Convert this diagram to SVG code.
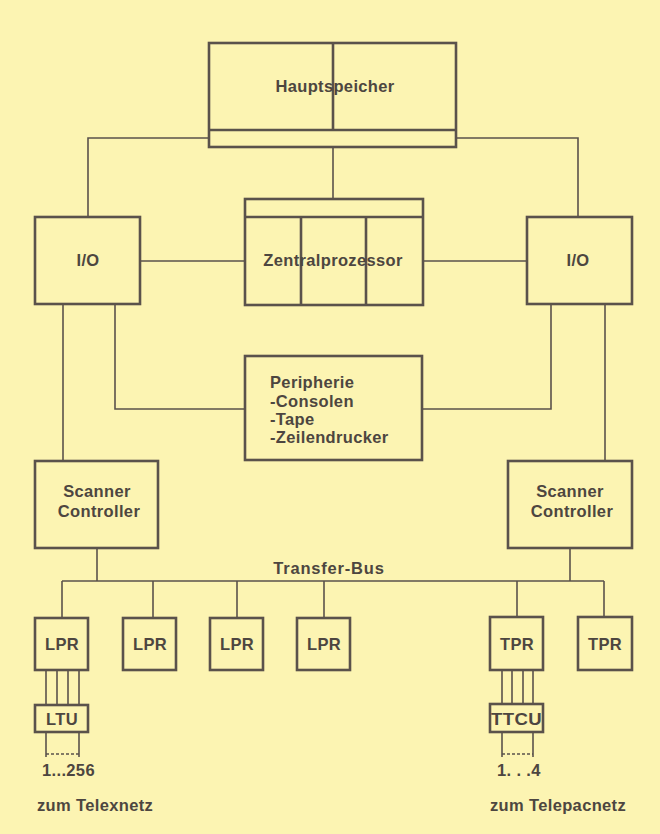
<svg xmlns="http://www.w3.org/2000/svg" width="660" height="834" viewBox="0 0 660 834">
<style>
.bx{fill:none;stroke:#5a524b;stroke-width:2.6}
.ln{fill:none;stroke:#5a524b;stroke-width:1.6}
.t{font-family:"Liberation Sans",Arial,sans-serif;font-weight:bold;font-size:16.5px;letter-spacing:0.35px;fill:#4d4640}
.c{text-anchor:middle}
</style>
<rect width="660" height="834" fill="#fcf4b2"/>
<g id="connectors">
<polyline class="ln" points="209,138 88,138 88,217"/>
<polyline class="ln" points="456,138 578,138 578,217"/>
<line class="ln" x1="333" y1="147" x2="333" y2="199"/>
<line class="ln" x1="140" y1="261" x2="245" y2="261"/>
<line class="ln" x1="423" y1="261" x2="527" y2="261"/>
<line class="ln" x1="63" y1="304" x2="63" y2="461"/>
<polyline class="ln" points="115,304 115,409 245,409"/>
<polyline class="ln" points="551,304 551,409 422,409"/>
<line class="ln" x1="605" y1="304" x2="605" y2="461"/>
<line class="ln" x1="97" y1="548" x2="97" y2="581"/>
<line class="ln" x1="570" y1="548" x2="570" y2="581"/>
<line class="ln" x1="62" y1="581" x2="604" y2="581"/>
<line class="ln" x1="62" y1="581" x2="62" y2="618"/>
<line class="ln" x1="153" y1="581" x2="153" y2="618"/>
<line class="ln" x1="237" y1="581" x2="237" y2="618"/>
<line class="ln" x1="324" y1="581" x2="324" y2="618"/>
<line class="ln" x1="517" y1="581" x2="517" y2="617"/>
<line class="ln" x1="604" y1="581" x2="604" y2="617"/>
<line class="ln" x1="46" y1="670" x2="46" y2="705"/>
<line class="ln" x1="57" y1="670" x2="57" y2="705"/>
<line class="ln" x1="68" y1="670" x2="68" y2="705"/>
<line class="ln" x1="79" y1="670" x2="79" y2="705"/>
<line class="ln" x1="46" y1="732" x2="46" y2="757"/>
<line class="ln" x1="79" y1="732" x2="79" y2="757"/>
<line class="ln" x1="46" y1="754" x2="79" y2="754" stroke-dasharray="3,2"/>
<line class="ln" x1="502" y1="670" x2="502" y2="704"/>
<line class="ln" x1="512" y1="670" x2="512" y2="704"/>
<line class="ln" x1="523" y1="670" x2="523" y2="704"/>
<line class="ln" x1="533" y1="670" x2="533" y2="704"/>
<line class="ln" x1="502" y1="732" x2="502" y2="757"/>
<line class="ln" x1="533" y1="732" x2="533" y2="757"/>
<line class="ln" x1="502" y1="754" x2="533" y2="754" stroke-dasharray="3,2"/>
<text class="t c" x="329" y="574" style="letter-spacing:0.8px">Transfer-Bus</text>
</g>
<g id="hauptspeicher">
<rect class="bx" x="209" y="43" width="247" height="104"/>
<line class="bx" x1="209" y1="130" x2="456" y2="130"/>
<line class="bx" x1="333" y1="43" x2="333" y2="130"/>
<text class="t c" x="335" y="92">Hauptspeicher</text>
</g>
<g id="zentralprozessor">
<rect class="bx" x="245" y="199" width="178" height="106"/>
<line class="bx" x1="245" y1="217" x2="423" y2="217"/>
<line class="bx" x1="301" y1="217" x2="301" y2="305"/>
<line class="bx" x1="366" y1="217" x2="366" y2="305"/>
<text class="t c" x="333" y="266">Zentralprozessor</text>
</g>
<g id="io-left">
<rect class="bx" x="35" y="217" width="105" height="87"/>
<text class="t c" x="88" y="266">I/O</text>
</g>
<g id="io-right">
<rect class="bx" x="527" y="217" width="105" height="87"/>
<text class="t c" x="578" y="266">I/O</text>
</g>
<g id="peripherie">
<rect class="bx" x="245" y="356" width="177" height="104"/>
<text class="t" x="270" y="388">Peripherie</text>
<text class="t" x="270" y="407">-Consolen</text>
<text class="t" x="270" y="425">-Tape</text>
<text class="t" x="270" y="443">-Zeilendrucker</text>
</g>
<g id="scanner-left">
<rect class="bx" x="35" y="461" width="123" height="87"/>
<text class="t c" x="97" y="497">Scanner</text>
<text class="t c" x="99" y="517">Controller</text>
</g>
<g id="scanner-right">
<rect class="bx" x="508" y="461" width="124" height="87"/>
<text class="t c" x="570" y="497">Scanner</text>
<text class="t c" x="572" y="517">Controller</text>
</g>
<g id="lpr1"><rect class="bx" x="35" y="618" width="53" height="52"/><text class="t c" x="62" y="650">LPR</text></g>
<g id="lpr2"><rect class="bx" x="123" y="618" width="53" height="52"/><text class="t c" x="150" y="650">LPR</text></g>
<g id="lpr3"><rect class="bx" x="210" y="618" width="53" height="52"/><text class="t c" x="237" y="650">LPR</text></g>
<g id="lpr4"><rect class="bx" x="297" y="618" width="53" height="52"/><text class="t c" x="324" y="650">LPR</text></g>
<g id="tpr1"><rect class="bx" x="490" y="617" width="53" height="53"/><text class="t c" x="517" y="650">TPR</text></g>
<g id="tpr2"><rect class="bx" x="578" y="617" width="54" height="53"/><text class="t c" x="605" y="650">TPR</text></g>
<g id="ltu"><rect class="bx" x="35" y="705" width="53" height="27"/><text class="t c" x="62" y="725">LTU</text></g>
<g id="ttcu"><rect class="bx" x="490" y="704" width="53" height="28"/><text class="t c" x="516.5" y="725" textLength="51" lengthAdjust="spacingAndGlyphs">TTCU</text></g>
<g id="labels">
<text class="t" x="42" y="776">1...256</text>
<text class="t" x="497" y="776">1. . .4</text>
<text class="t" x="37" y="811">zum Telexnetz</text>
<text class="t" x="490" y="811">zum Telepacnetz</text>
</g>
</svg>
